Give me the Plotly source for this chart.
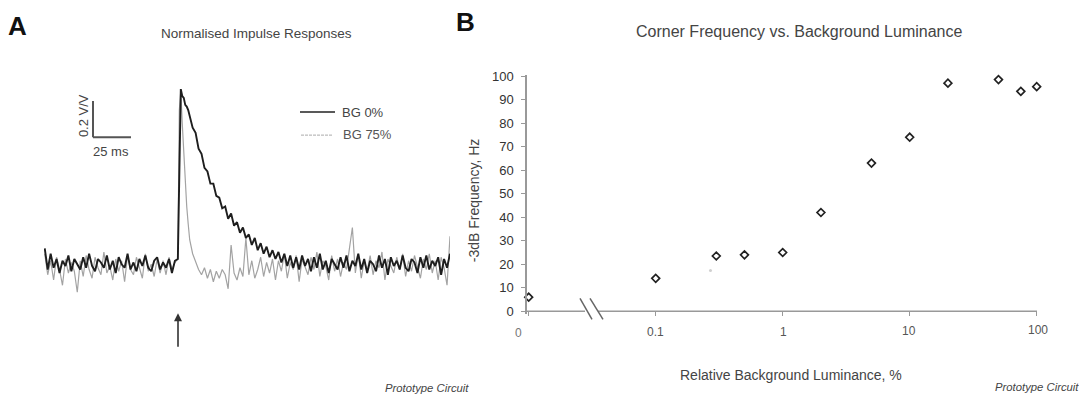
import plotly.graph_objects as go

# ---------------- Panel A data (normalised impulse responses, % of peak) ----------------
T_PRE = list(range(-90, 0, 2))          # sample times before the impulse, ms
T_RISE = [0, 1, 2, 3, 4, 5, 6, 7]       # fine sampling around the impulse, ms
T_POST = list(range(8, 185, 2))         # sample times after the impulse, ms

BLACK_PRE = [9, -3, 6, -2, 3, -5, 2, -1, 5, -4,
             3, 0, -3, 4, -2, 6, -1, -4, 3, 1,
             -2, 5, -3, 2, -5, 4, 0, -2, 6, -3,
             1, -4, 3, -1, 5, -2, -4, 2, 4, -3,
             1, -2, 3, -5, 2]
BLACK_RISE = [3, 45, 100, 96, 95, 91, 90, 88]
BLACK_POST = [84, 78, 75, 66, 63, 55, 53, 46, 46, 39,
              38, 32, 33, 26, 29, 22, 24, 18, 21, 15,
              17, 11, 15, 8, 12, 6, 10, 4, 8, 3,
              7, 1, 6, -1, 5, -2, 4, -3, 5, -1,
              3, -4, 4, -2, 6, -3, 2, -5, 3, 0,
              -3, 4, -2, 5, -4, 2, -1, 6, -3, 3,
              -5, 2, 0, -4, 5, -2, 3, -6, 4, -1,
              2, -3, 5, -2, -4, 3, 1, -5, 4, -2,
              5, -3, 2, -1, 4, -6, 3, -2, 6]

GRAY_PRE = [6, -6, 2, -9, 4, -3, -12, 3, -5, 1,
            -4, -16, 2, -7, 5, -3, -8, 4, -2, -6,
            7, -5, -1, -9, 3, -4, 2, -10, 5, -3,
            -6, 4, -2, -8, 6, -4, 0, -7, 3, -5,
            2, -6, 4, -3, 1]
GRAY_RISE = [3, 88, 99, 80, 62, 46, 33, 23]
GRAY_POST = [14, 6, 1, -3, -6, -2, -8, -3, -10, -4,
             -8, -3, -6, -14, 11, -5, -9, -2, -7, 15,
             -6, 2, -8, -3, 4, -7, 1, -5, 3, -9,
             2, -4, 6, -8, 1, -3, 5, -10, 3, -2,
             -6, 4, -3, 7, -7, 2, -1, -9, 5, -4,
             3, -7, 1, -3, 8, 21, -5, 6, -8, 2,
             -4, 5, -6, 2, -2, 7, -9, 3, -1, -5,
             4, -3, 6, -7, 2, -4, 5, -2, -8, 3,
             -3, 6, -5, 2, -9, 4, -2, -12, 16]

# ---------------- Panel B data ----------------
LUMINANCE = [0.01, 0.1, 0.3, 0.5, 1, 2, 5, 10, 20, 50, 75, 100]   # 0.01 stands for "0"
CORNER_HZ = [6, 14, 23.5, 24, 25, 42, 63, 74, 97, 98.5, 93.5, 95.5]
STRAY_X = [0.27]
STRAY_Y = [17.3]
Y_TICKS = [0, 10, 20, 30, 40, 50, 60, 70, 80, 90, 100]
X_TICK_VALS = [0.01, 0.1, 1, 10, 100]
X_TICK_TEXT = ["0", "0.1", "1", "10", "100"]

W, H = 1079, 399
# the photographed page shows a slight vertical offset/compression; compensate
Y_OFF, Y_SCALE = 5.0, 0.974


def px(x):
    return x / W


def py(y):
    return 1 - ((y - Y_OFF) / Y_SCALE) / H


REG = "Liberation Sans, Arial, sans-serif"

t = T_PRE + T_RISE + T_POST
black = BLACK_PRE + BLACK_RISE + BLACK_POST
gray = GRAY_PRE + GRAY_RISE + GRAY_POST

fig = go.Figure()
fig.add_trace(go.Scatter(x=t, y=gray, mode="lines", line=dict(color="#a3a3a3", width=1.2),
                         xaxis="x", yaxis="y", name="BG 75%"))
fig.add_trace(go.Scatter(x=t, y=black, mode="lines", line=dict(color="#1e1e1e", width=1.9),
                         xaxis="x", yaxis="y", name="BG 0%"))
fig.add_trace(go.Scatter(x=STRAY_X, y=STRAY_Y, mode="markers",
                         marker=dict(size=3, color="#d0d0d0"), xaxis="x2", yaxis="y2"))
fig.add_trace(go.Scatter(x=LUMINANCE, y=CORNER_HZ, mode="markers",
                         marker=dict(symbol="diamond-open", size=6, color="#222",
                                     line=dict(width=1.7, color="#222")),
                         xaxis="x2", yaxis="y2", cliponaxis=False))

# map panel-A axes: baseline at pixel 263, peak (100) at pixel 88
ya_lo = (263 - 300) / 1.75
ya_hi = (263 - 80) / 1.75
# panel-B axes: 0 Hz at pixel 310, 10 Hz = 23.5 px; decade = 127 px, 0.01 at 528.7
yb_lo = (310 - 313) / 2.35
yb_hi = (310 - 74) / 2.35
xb_lo = -2 + (527 - 528.7) / 127
xb_hi = -2 + (1037 - 528.7) / 127

fig.update_layout(
    width=W, height=H, margin=dict(l=0, r=0, t=0, b=0),
    paper_bgcolor="white", plot_bgcolor="white", showlegend=False,
    xaxis=dict(domain=[px(44), px(450)], range=[-90.5, 184], visible=False),
    yaxis=dict(domain=[py(300), py(80)], range=[ya_lo, ya_hi], visible=False),
    xaxis2=dict(domain=[px(527), px(1037)], type="log", range=[xb_lo, xb_hi],
                anchor="free", position=py(310), showline=False, showgrid=False,
                zeroline=False, ticks="outside", ticklen=4, tickcolor="#999",
                tickwidth=1, tickvals=X_TICK_VALS, showticklabels=False),
    yaxis2=dict(domain=[py(313), py(74)], range=[yb_lo, yb_hi], anchor="x2",
                showline=True, linecolor="#999", linewidth=1.5, showgrid=False,
                zeroline=False, ticks="outside", ticklen=4, tickcolor="#999",
                tickvals=Y_TICKS, ticklabelstandoff=5,
                tickfont=dict(family=REG, size=13, color="#333")),
)

shapes = []
# scale bar
shapes.append(dict(type="line", xref="paper", yref="paper", x0=px(93), x1=px(93),
                   y0=py(100), y1=py(136), line=dict(color="#555", width=2)))
shapes.append(dict(type="line", xref="paper", yref="paper", x0=px(93), x1=px(131),
                   y0=py(136), y1=py(136), line=dict(color="#555", width=2)))
# legend samples
shapes.append(dict(type="line", xref="paper", yref="paper", x0=px(300), x1=px(335),
                   y0=py(111), y1=py(111), line=dict(color="#222", width=1.5)))
shapes.append(dict(type="line", xref="paper", yref="paper", x0=px(301), x1=px(333),
                   y0=py(134), y1=py(134), line=dict(color="#aaa", width=1, dash="3px,1px")))
# panel B x axis line with break
shapes.append(dict(type="line", xref="paper", yref="paper", x0=px(527), x1=px(585),
                   y0=py(310), y1=py(310), line=dict(color="#999", width=1.5)))
shapes.append(dict(type="line", xref="paper", yref="paper", x0=px(598), x1=px(1037),
                   y0=py(310), y1=py(310), line=dict(color="#999", width=1.5)))
shapes.append(dict(type="line", xref="paper", yref="paper", x0=px(580), x1=px(592),
                   y0=py(297), y1=py(318), line=dict(color="#666", width=1.5)))
shapes.append(dict(type="line", xref="paper", yref="paper", x0=px(590), x1=px(603),
                   y0=py(297), y1=py(318), line=dict(color="#666", width=1.5)))
fig.update_layout(shapes=shapes)


def txt(x, y, s, size, color="#333", family=REG, xanchor="center", angle=0):
    fig.add_annotation(xref="paper", yref="paper", x=px(x), y=py(y), text=s,
                       showarrow=False, xanchor=xanchor, yanchor="middle",
                       textangle=angle, font=dict(size=size, color=color, family=family))


txt(17, 25, "<b>A</b>", 26, "#111")
txt(465, 21, "<b>B</b>", 26, "#111")
txt(256, 32, "Normalised Impulse Responses", 13.5, "#444")
txt(799, 30, "Corner Frequency vs. Background Luminance", 16, "#444")
txt(791, 374, "Relative Background Luminance, %", 14, "#444")
txt(474, 200, "-3dB Frequency, Hz", 14, "#444", angle=-90)
txt(83, 115, "0.2 V/V", 13, "#444", angle=-90)
txt(111, 150, "25 ms", 13, "#444")
txt(340, 111, "BG 0%", 13, "#444", xanchor="left")
txt(341, 133, "BG 75%", 13, "#555", xanchor="left")
txt(383, 387, "<i>Prototype Circuit</i>", 11.3, "#444", xanchor="left")
txt(993, 386, "<i>Prototype Circuit</i>", 11.3, "#444", xanchor="left")

# x tick labels of panel B
x_label_px = [518, 655, 783, 909, 1038]
x_label_py = [332, 331, 331, 330, 329]
for s, xx, yy in zip(X_TICK_TEXT, x_label_px, x_label_py):
    txt(xx, yy, s, 12, "#777" if s == "0" else "#555")

# stimulus arrow
fig.add_annotation(xref="paper", yref="paper", x=px(178), y=py(312), ax=0, ay=35,
                   text="", showarrow=True, arrowhead=2, arrowsize=1, arrowwidth=1.6,
                   arrowcolor="#333")

POST = ("document.documentElement.style.margin='0';"
        "document.body.style.margin='0';document.body.style.padding='0';"
        "document.documentElement.style.overflow='hidden';document.body.style.overflow='hidden';")

fig.write_html("out.html", config={"displayModeBar": False}, post_script=POST)
